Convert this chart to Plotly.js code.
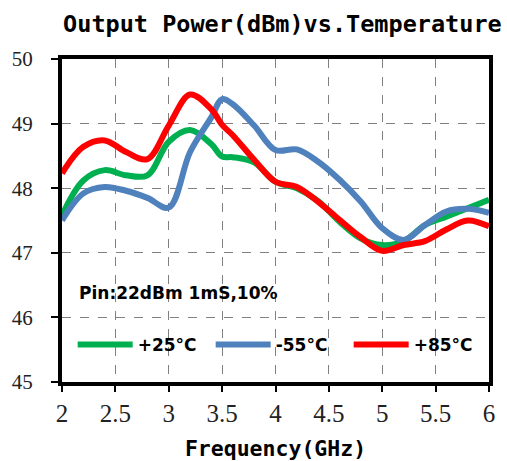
<!DOCTYPE html>
<html>
<head>
<meta charset="utf-8">
<script src="https://cdn.plot.ly/plotly-3.0.1.min.js"></script>
<style>html,body{margin:0;padding:0;background:#fff;}#chart{width:507px;height:461px;}</style>
</head>
<body>
<div id="chart"></div>
<script>
// Frequency (GHz)
var freq = [2.0, 2.2, 2.4, 2.6, 2.8, 3.0, 3.2, 3.4, 3.5, 3.6, 3.8, 4.0, 4.2, 4.4, 4.6, 4.8, 5.0, 5.2, 5.4, 5.6, 5.8, 6.0];
// Output power (dBm)
var p25 = [47.58, 48.12, 48.28, 48.2, 48.2, 48.72, 48.9, 48.68, 48.49, 48.48, 48.4, 48.1, 48.0, 47.8, 47.48, 47.22, 47.12, 47.18, 47.43, 47.56, 47.69, 47.82];
var pm55 = [47.5, 47.92, 48.02, 47.96, 47.85, 47.7, 48.56, 49.1, 49.38, 49.3, 48.97, 48.59, 48.6, 48.41, 48.13, 47.79, 47.38, 47.2, 47.43, 47.64, 47.68, 47.62];
var p85 = [48.23, 48.64, 48.74, 48.56, 48.45, 48.97, 49.45, 49.22, 48.98, 48.82, 48.44, 48.1, 48.02, 47.79, 47.51, 47.24, 47.03, 47.12, 47.18, 47.36, 47.5, 47.41];
var seriesNames = ['+25°C', '-55°C', '+85°C'];
var seriesColors = ['#00B050', '#4F81BD', '#FF0000'];
var xTicks = [2, 2.5, 3, 3.5, 4, 4.5, 5, 5.5, 6];
var xTickText = ['2', '2.5', '3', '3.5', '4', '4.5', '5', '5.5', '6'];
var yTicks = [45, 46, 47, 48, 49, 50];
var yTickText = ['45', '46', '47', '48', '49', '50'];

var ys = [p25, pm55, p85];
var traces = ys.map(function (y, i) {
  return {
    x: freq, y: y, type: 'scatter', mode: 'lines',
    name: seriesNames[i],
    line: {color: seriesColors[i], width: 6, shape: 'spline', smoothing: 1}
  };
});

var serif = 'Liberation Serif, DejaVu Serif, Times New Roman, serif';

var layout = {
  width: 507, height: 461,
  margin: {l: 62, r: 18, t: 59, b: 79},
  paper_bgcolor: '#fff', plot_bgcolor: '#fff',
  font: {family: serif, size: 21, color: '#222'},
  showlegend: true,
  title: {
    text: 'Output Power(dBm)vs.Temperature',
    font: {family: 'DejaVu Sans Mono', size: 23.5, color: '#000', weight: 'bold'},
    x: 0.557, xanchor: 'center', y: 0.948, yanchor: 'middle'
  },
  xaxis: {
    range: [2, 6], tickvals: xTicks, ticktext: xTickText,
    showgrid: true, gridcolor: '#808080', griddash: 'dash', gridwidth: 1,
    showline: true, linecolor: '#000', linewidth: 4, mirror: true,
    ticks: 'outside', ticklen: 6, tickwidth: 2, tickcolor: '#000',
    tickfont: {family: serif, size: 25, color: '#222', weight: 'normal'},
    zeroline: false, fixedrange: true,
    title: {text: 'Frequency(GHz)', font: {family: 'DejaVu Sans Mono', size: 21.5, color: '#000', weight: 'bold'}, standoff: 19}
  },
  yaxis: {
    range: [45, 50], tickvals: yTicks, ticktext: yTickText,
    showgrid: true, gridcolor: '#808080', griddash: 'dash', gridwidth: 1,
    showline: true, linecolor: '#000', linewidth: 4, mirror: true,
    ticks: 'outside', ticklen: 7, tickwidth: 2, tickcolor: '#000',
    tickfont: {family: serif, size: 21, color: '#222', weight: 'normal'},
    ticklabelstandoff: 14,
    zeroline: false, fixedrange: true
  },
  legend: {
    orientation: 'h', x: 0.025, xanchor: 'left', y: 0.115, yanchor: 'middle',
    bgcolor: 'rgba(0,0,0,0)', borderwidth: 0,
    font: {family: 'DejaVu Sans', size: 17, color: '#000', weight: 'bold'},
    entrywidth: 68, entrywidthmode: 'pixels', itemwidth: 55, tracegroupgap: 0
  },
  annotations: [{
    text: 'Pin:22dBm 1mS,10%', xref: 'paper', yref: 'paper',
    x: 0.035, y: 0.275, xanchor: 'left', yanchor: 'middle', showarrow: false,
    font: {family: 'DejaVu Sans', size: 17, color: '#000', weight: 'bold'}
  }]
};

Plotly.newPlot('chart', traces, layout, {displayModeBar: false, staticPlot: true});
</script>
</body>
</html>
